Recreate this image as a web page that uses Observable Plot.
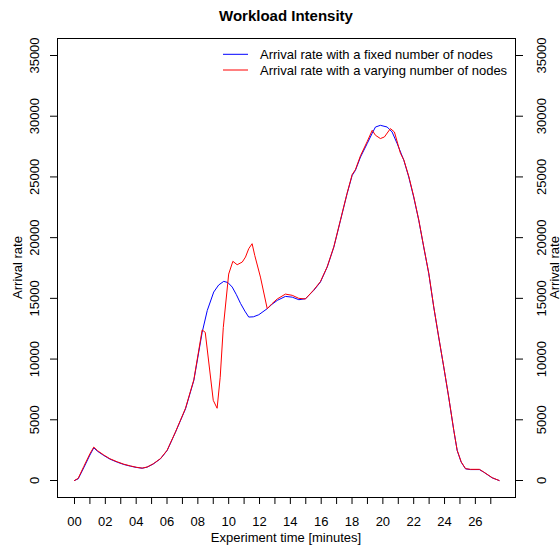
<!DOCTYPE html>
<html>
<head>
<meta charset="utf-8">
<script src="https://cdn.jsdelivr.net/npm/d3@7"></script>
<script src="https://cdn.jsdelivr.net/npm/@observablehq/plot@0.6"></script>
<style>
  html, body { margin: 0; padding: 0; background: #fff; }
  svg { display: block; }
</style>
</head>
<body>
<div id="chart"></div>
<script>
// ---- Data (time in minutes, arrival rate) ----
const timeFixed = [0, 0.24, 0.6, 1.0, 1.25, 1.5, 1.9, 2.3, 2.77, 3.2, 3.63, 4.0, 4.39, 4.71, 5.1, 5.58, 6.01, 6.55, 7.2, 7.74, 8.28, 8.61, 9.03, 9.35, 9.68, 9.95, 10.23, 10.5, 10.77, 11.05, 11.3, 11.6, 11.95, 12.5, 12.8, 13.15, 13.68, 14.12, 14.55, 14.98, 15.52, 15.95, 16.39, 16.82, 17.25, 17.68, 18.01, 18.22, 18.55, 18.98, 19.31, 19.52, 19.84, 20.28, 20.6, 20.93, 21.36, 21.68, 22.0, 22.33, 22.65, 22.98, 23.3, 23.62, 23.95, 24.27, 24.6, 24.82, 25.08, 25.36, 25.68, 26.26, 26.54, 27.09, 27.54];
const rateFixed = [0, 140, 1050, 2100, 2690, 2400, 2060, 1760, 1510, 1320, 1180, 1080, 1010, 1100, 1350, 1790, 2470, 3980, 5900, 8240, 12200, 14000, 15520, 16100, 16400, 16300, 15930, 15300, 14580, 13950, 13460, 13480, 13650, 14150, 14500, 14830, 15160, 15100, 14890, 14970, 15660, 16340, 17580, 19220, 21420, 23620, 25130, 25540, 26640, 27740, 28600, 29110, 29250, 29110, 28700, 27740, 26370, 24990, 23340, 21420, 19220, 17030, 14280, 11810, 9340, 6860, 4120, 2470, 1510, 960, 900, 900, 690, 220, 0];

const timeVarying = [0, 0.24, 0.6, 1.0, 1.25, 1.5, 1.9, 2.3, 2.77, 3.2, 3.63, 4.0, 4.39, 4.71, 5.1, 5.58, 6.01, 6.55, 7.2, 7.74, 8.28, 8.48, 9.0, 9.25, 9.45, 9.65, 10.0, 10.27, 10.55, 10.88, 11.09, 11.3, 11.52, 11.69, 12.06, 12.5, 12.8, 13.15, 13.68, 14.12, 14.55, 14.98, 15.52, 15.95, 16.39, 16.82, 17.25, 17.68, 18.01, 18.22, 18.55, 18.98, 19.31, 19.52, 19.84, 20.1, 20.49, 20.75, 21.14, 21.36, 21.68, 22.0, 22.33, 22.65, 22.98, 23.3, 23.62, 23.95, 24.27, 24.6, 24.82, 25.08, 25.36, 25.68, 26.26, 26.54, 27.09, 27.54];
const rateVarying = [0, 180, 1150, 2200, 2750, 2450, 2100, 1790, 1540, 1340, 1200, 1090, 1020, 1110, 1370, 1810, 2500, 4000, 5950, 8300, 12400, 12200, 6600, 5950, 8500, 12600, 17000, 18050, 17770, 17990, 18400, 19090, 19500, 18540, 16750, 14150, 14550, 14950, 15350, 15250, 15000, 14950, 15700, 16380, 17600, 19250, 21450, 23650, 25200, 25600, 26750, 27900, 28840, 28430, 28160, 28290, 28980, 28700, 26950, 26400, 25050, 23400, 21450, 19250, 17050, 14300, 11830, 9360, 6880, 4140, 2490, 1530, 980, 920, 920, 700, 230, 0];

const xTicks = [0, 1, 2, 3, 4, 5, 6, 7, 8, 9, 10, 11, 12, 13, 14, 15, 16, 17, 18, 19, 20, 21, 22, 23, 24, 25, 26, 27];
const yTicks = [0, 5000, 10000, 15000, 20000, 25000, 30000, 35000];
const seriesNames = ["Arrival rate with a fixed number of nodes", "Arrival rate with a varying number of nodes"];
const seriesColors = ["blue", "red"];
const titleText = "Workload Intensity";
const xLabel = "Experiment time [minutes]";
const yLabel = "Arrival rate";

// ---- Build tables ----
const fixed = timeFixed.map((t, i) => ({t, v: rateFixed[i]}));
const varying = timeVarying.map((t, i) => ({t, v: rateVarying[i]}));

const W = 560, H = 548, mL = 57, mR = 45, mT = 38, mB = 51;
const font = "'Liberation Sans', Arial, Helvetica, sans-serif";
const fs = 13;

const chart = Plot.plot({
  width: W, height: H,
  marginLeft: mL, marginRight: mR, marginTop: mT, marginBottom: mB,
  style: {fontFamily: font, fontSize: fs + "px", color: "black", background: "white", overflow: "visible"},
  x: {domain: [0, 27.5], insetLeft: 17, insetRight: 17},
  y: {domain: [0, 35000], insetTop: 17, insetBottom: 17},
  marks: [
    Plot.axisX({ticks: xTicks, tickSize: 7, tickPadding: 12.5, label: null,
      tickFormat: d => d % 2 === 0 ? String(d).padStart(2, "0") : "", fontSize: fs}),
    Plot.axisY({anchor: "left", ticks: yTicks, tickSize: 7, label: null, tickFormat: () => ""}),
    Plot.axisY({anchor: "right", ticks: yTicks, tickSize: 7, label: null, tickFormat: () => ""}),
    Plot.text(yTicks, {y: d => d, text: d => String(d), frameAnchor: "left", dx: -23,
      rotate: -90, textAnchor: "middle", fontSize: fs, fill: "black"}),
    Plot.text(yTicks, {y: d => d, text: d => String(d), frameAnchor: "right", dx: 26,
      rotate: -90, textAnchor: "middle", fontSize: fs, fill: "black"}),
    Plot.line(fixed, {x: "t", y: "v", stroke: seriesColors[0], strokeWidth: 1}),
    Plot.line(varying, {x: "t", y: "v", stroke: seriesColors[1], strokeWidth: 1}),
    Plot.frame({stroke: "black"})
  ]
});

document.getElementById("chart").appendChild(chart);

// ---- Titles and legend ----
const svg = d3.select(chart);
const cx = (mL + (W - mR)) / 2;
svg.append("text").attr("x", cx).attr("y", 21).attr("text-anchor", "middle")
  .attr("font-family", font).attr("font-size", 15).attr("font-weight", "bold").attr("fill", "black")
  .text(titleText);
svg.append("text").attr("x", cx).attr("y", 542).attr("text-anchor", "middle")
  .attr("font-family", font).attr("font-size", fs).attr("fill", "black").text(xLabel);
const cy = (mT + (H - mB)) / 2;
svg.append("text").attr("transform", `translate(21.5,${cy}) rotate(-90)`).attr("text-anchor", "middle")
  .attr("font-family", font).attr("font-size", fs).attr("fill", "black").text(yLabel);
svg.append("text").attr("transform", `translate(558.5,${cy}) rotate(-90)`).attr("text-anchor", "middle")
  .attr("font-family", font).attr("font-size", fs).attr("fill", "black").text(yLabel);

const legY = [54.3, 70];
seriesNames.forEach((name, i) => {
  svg.append("line").attr("x1", 223).attr("x2", 248).attr("y1", legY[i]).attr("y2", legY[i])
    .attr("stroke", seriesColors[i]).attr("stroke-width", 1);
  svg.append("text").attr("x", 260).attr("y", legY[i] + 4.6).attr("text-anchor", "start")
    .attr("font-family", font).attr("font-size", fs).attr("fill", "black").text(name);
});
</script>
</body>
</html>
